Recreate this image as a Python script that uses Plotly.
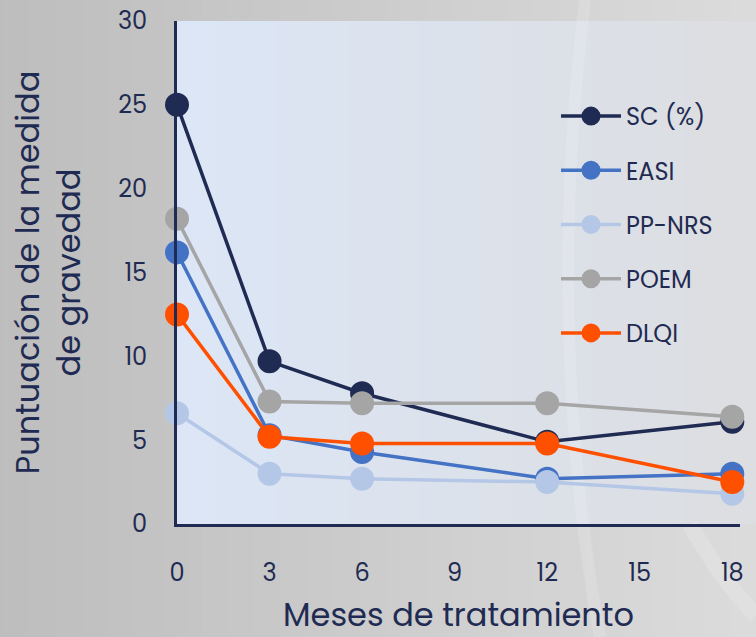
import plotly.graph_objects as go

# Months of treatment and mean severity scores per instrument
months = [0, 3, 6, 12, 18]
sc_pct = [25.0, 9.7, 7.8, 4.9, 6.1]
easi = [16.2, 5.3, 4.3, 2.7, 3.0]
pp_nrs = [6.6, 3.0, 2.7, 2.5, 1.8]
poem = [18.2, 7.3, 7.2, 7.2, 6.4]
dlqi = [12.5, 5.2, 4.8, 4.8, 2.5]

series_names = ["SC (%)", "EASI", "PP-NRS", "POEM", "DLQI"]
series_values = [sc_pct, easi, pp_nrs, poem, dlqi]
series_colors = ["#1f2b52", "#4472c4", "#b4c7e7", "#a5a5a5", "#ff5000"]

x_ticks = [0, 3, 6, 9, 12, 15, 18]
y_ticks = [0, 5, 10, 15, 20, 25, 30]

W, H = 756, 637
ML, MR, MT, MB = 177, 16, 21, 113
INK = "#1f2b52"
FONT = "Poppins, Open Sans, sans-serif"

fig = go.Figure()
for name, vals, col in zip(series_names, series_values, series_colors):
    fig.add_trace(go.Scatter(
        x=months, y=vals, name=name, mode="lines+markers",
        legendgroup=name,
        line=dict(color=col, width=3.5),
        marker=dict(color=col, size=21, line=dict(color=col, width=3)),
        cliponaxis=False,
    ))


def mix(c1, c2, t):
    a = [int(c1[k:k + 2], 16) for k in (1, 3, 5)]
    b = [int(c2[k:k + 2], 16) for k in (1, 3, 5)]
    return "#" + "".join(f"{round(a[j] + (b[j] - a[j]) * t):02x}" for j in range(3))


# Horizontal gradients for the page and the plotting panel (paper coordinates)
pw = W - ML - MR
ph = H - MT - MB
shapes = []
n = 60
x_left = -ML / pw - 0.02
x_right = (W - ML) / pw + 0.05
for k in range(n):
    t0 = k / n
    t1 = (k + 1) / n
    shapes.append(dict(
        type="rect", xref="paper", yref="paper", layer="below",
        x0=x_left + (x_right - x_left) * t0, x1=x_left + (x_right - x_left) * t1 + 0.003,
        y0=-MB / ph - 0.05, y1=1 + MT / ph + 0.05,
        fillcolor=mix("#bdbdbd", "#dddddd", t0), line=dict(width=0),
    ))
for k in range(n):
    t0 = k / n
    t1 = (k + 1) / n
    shapes.append(dict(
        type="rect", xref="paper", yref="paper", layer="below",
        x0=t0 * x_right, x1=t1 * x_right + 0.003, y0=0, y1=1,
        fillcolor=mix("#dce6f6", "#dcdddf", t0), line=dict(width=0),
    ))


def px(xp, yp):
    return f"{(xp - ML) / pw:.4f},{(H - MB - yp) / ph:.4f}"


# Soft light streaks in the backdrop
shapes.append(dict(
    type="path", xref="paper", yref="paper", layer="below",
    path=f"M{px(585, 0)} Q{px(545, 330)} {px(600, 637)}",
    line=dict(color="rgba(255,255,255,0.14)", width=12),
))
shapes.append(dict(
    type="path", xref="paper", yref="paper", layer="below",
    path=f"M{px(690, 525)} Q{px(725, 585)} {px(756, 615)}",
    line=dict(color="rgba(255,255,255,0.16)", width=16),
))

fig.update_layout(
    width=W, height=H,
    margin=dict(l=ML, r=MR, t=MT, b=MB),
    paper_bgcolor="#cccccc",
    plot_bgcolor="rgba(0,0,0,0)",
    font=dict(family=FONT, color=INK, size=24),
    shapes=shapes,
    showlegend=True,
    legend=dict(
        x=(556 - ML) / pw, y=(H - MB - 94) / ph, xanchor="left", yanchor="top",
        bgcolor="rgba(0,0,0,0)", font=dict(size=24, color=INK),
        tracegroupgap=20, itemwidth=60, itemsizing="trace",
    ),
    xaxis=dict(
        range=[0, 18.25], tickvals=x_ticks, ticktext=[str(v) for v in x_ticks],
        showgrid=False, zeroline=False, showline=True, linecolor=INK, linewidth=3,
        ticks="", ticklabelstandoff=25, tickfont=dict(size=24, color=INK),
        automargin=False,
        title=dict(text="Meses de tratamiento", font=dict(size=32, color=INK), standoff=24),
    ),
    yaxis=dict(
        range=[0, 30], tickvals=y_ticks, ticktext=[str(v) for v in y_ticks],
        showgrid=False, zeroline=False, showline=True, linecolor=INK, linewidth=3,
        ticks="", ticklabelstandoff=22, tickfont=dict(size=24, color=INK),
        automargin=False,
        title=dict(text="Puntuación de la medida<br>de gravedad",
                   font=dict(size=32, color=INK), standoff=28),
    ),
)

fig.write_html("out.html")
